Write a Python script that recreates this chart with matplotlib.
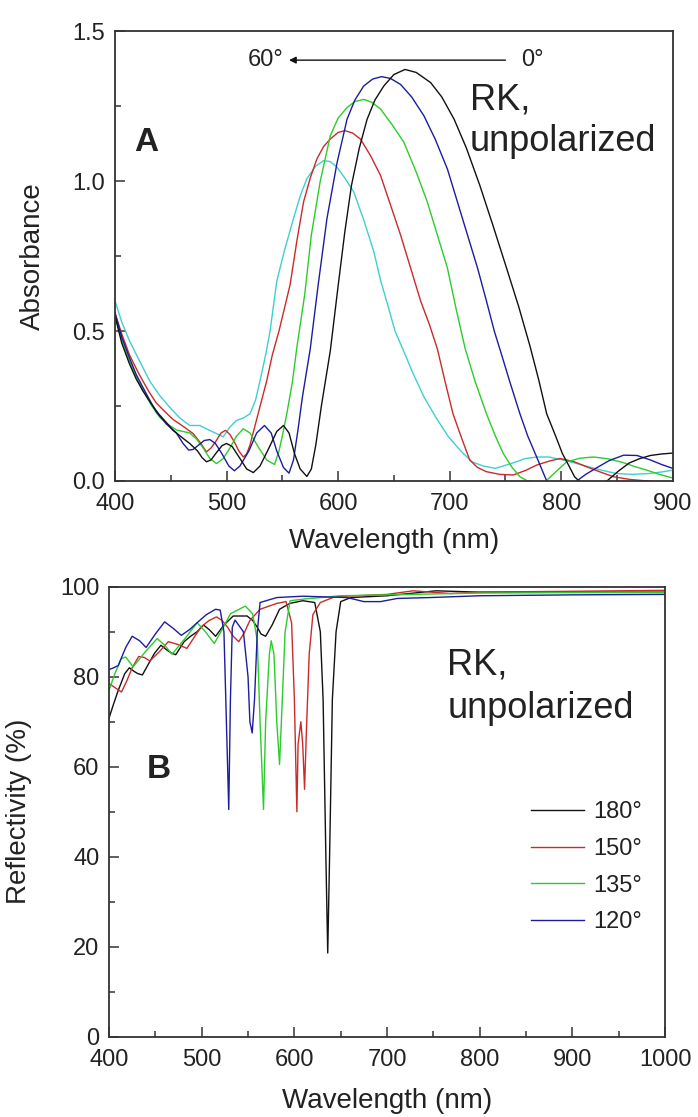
import matplotlib
matplotlib.use("Agg")
import matplotlib.pyplot as plt
from matplotlib.ticker import MultipleLocator, FormatStrFormatter

plt.rcParams['font.family'] = ['Liberation Sans', 'DejaVu Sans']

# ---------------- Panel A: absorbance vs wavelength ----------------
a_black_wl = [400, 406, 413, 419, 425, 432, 439, 446, 452, 460, 467, 474, 478, 482, 486, 491, 496, 500, 505, 512, 518, 524, 530, 538, 545, 551, 556, 561, 566, 572, 576, 580, 585, 593, 600, 606, 612, 619, 626, 633, 641, 650, 660, 670, 683, 693, 704, 715, 727, 739, 751, 762, 772, 780, 787, 795, 801, 807, 812, 816, 828, 841, 851, 861, 870, 880, 890, 900]
a_black = [0.55, 0.46, 0.39, 0.34, 0.30, 0.26, 0.224, 0.195, 0.169, 0.145, 0.125, 0.10, 0.078, 0.064, 0.07, 0.095, 0.118, 0.125, 0.115, 0.075, 0.04, 0.028, 0.05, 0.11, 0.165, 0.185, 0.16, 0.09, 0.04, 0.015, 0.04, 0.12, 0.25, 0.434, 0.65, 0.83, 0.986, 1.11, 1.206, 1.27, 1.317, 1.355, 1.372, 1.362, 1.328, 1.28, 1.206, 1.11, 0.986, 0.85, 0.71, 0.58, 0.45, 0.335, 0.224, 0.15, 0.092, 0.05, 0.014, 0.0, -0.03, 0.0, 0.032, 0.06, 0.074, 0.085, 0.09, 0.093]

a_blue_wl = [400, 406, 413, 419, 425, 431, 437, 446, 455, 461, 466, 470, 475, 480, 485, 490, 496, 502, 507, 512, 520, 527, 534, 540, 545, 551, 556, 560, 564, 568, 575, 582, 590, 599, 608, 615, 623, 631, 639, 647, 656, 666, 677, 687, 698, 707, 716, 725, 733, 740, 745, 754, 763, 770, 778, 787, 800, 814, 822, 830, 843, 856, 868, 880, 890, 900]
a_blue = [0.56, 0.48, 0.41, 0.355, 0.312, 0.27, 0.23, 0.19, 0.16, 0.125, 0.103, 0.105, 0.12, 0.135, 0.138, 0.125, 0.09, 0.05, 0.034, 0.05, 0.10, 0.16, 0.185, 0.16, 0.10, 0.045, 0.026, 0.07, 0.17, 0.28, 0.44, 0.65, 0.875, 1.06, 1.206, 1.27, 1.317, 1.34, 1.348, 1.342, 1.322, 1.28, 1.217, 1.14, 1.04, 0.93, 0.82, 0.71, 0.6, 0.5, 0.44, 0.33, 0.224, 0.15, 0.08, 0.0, -0.03, 0.0, 0.022, 0.04, 0.068, 0.086, 0.085, 0.07, 0.055, 0.042]

a_green_wl = [400, 406, 413, 420, 427, 433, 440, 447, 455, 461, 467, 473, 479, 485, 491, 497, 503, 509, 515, 521, 529, 536, 543, 547, 550, 554, 559, 563, 570, 576, 584, 593, 600, 608, 615, 623, 630, 638, 648, 659, 670, 680, 689, 698, 706, 714, 723, 733, 741, 748, 756, 763, 770, 785, 795, 805, 817, 829, 842, 855, 866, 877, 888, 900]
a_green = [0.55, 0.47, 0.40, 0.34, 0.29, 0.25, 0.213, 0.19, 0.17, 0.165, 0.16, 0.14, 0.11, 0.075, 0.058, 0.075, 0.11, 0.15, 0.174, 0.16, 0.11, 0.07, 0.055, 0.1, 0.15, 0.224, 0.33, 0.445, 0.62, 0.82, 1.0, 1.151, 1.21, 1.245, 1.265, 1.272, 1.263, 1.24, 1.19, 1.129, 1.03, 0.93, 0.82, 0.71, 0.57, 0.44, 0.33, 0.224, 0.15, 0.092, 0.045, 0.014, 0.0, -0.005, 0.03, 0.064, 0.076, 0.08, 0.074, 0.062, 0.048, 0.036, 0.022, 0.01]

a_red_wl = [400, 406, 413, 421, 430, 437, 445, 452, 460, 470, 476, 482, 486, 490, 495, 499, 503, 507, 511, 515, 518, 521, 528, 536, 541, 547, 557, 563, 569, 575, 581, 587, 593, 600, 606, 613, 620, 629, 638, 647, 656, 665, 674, 682, 689, 696, 703, 711, 718, 725, 733, 745, 757, 768, 778, 789, 799, 811, 823, 835, 847, 862, 877, 890, 900]
a_red = [0.56, 0.49, 0.42, 0.36, 0.30, 0.26, 0.23, 0.205, 0.185, 0.158, 0.13, 0.097, 0.11, 0.13, 0.16, 0.169, 0.155, 0.13, 0.10, 0.08, 0.09, 0.12, 0.22, 0.334, 0.42, 0.5, 0.655, 0.80, 0.93, 1.01, 1.074, 1.115, 1.14, 1.162, 1.168, 1.16, 1.14, 1.085, 1.019, 0.92, 0.82, 0.71, 0.6, 0.52, 0.44, 0.33, 0.224, 0.14, 0.07, 0.045, 0.031, 0.022, 0.02, 0.035, 0.053, 0.066, 0.075, 0.065, 0.047, 0.03, 0.014, 0.005, 0.0, -0.005, -0.01]

a_cyan_wl = [400, 406, 413, 422, 431, 440, 449, 458, 467, 476, 484, 491, 497, 503, 509, 515, 521, 526, 530, 535, 539, 545, 552, 560, 566, 572, 580, 587, 593, 599, 606, 614, 623, 632, 638, 645, 651, 658, 667, 677, 688, 699, 710, 720, 730, 741, 755, 768, 779, 789, 804, 819, 834, 849, 864, 879, 890, 900]
a_cyan = [0.60, 0.53, 0.467, 0.40, 0.334, 0.285, 0.246, 0.21, 0.185, 0.185, 0.17, 0.158, 0.147, 0.18, 0.202, 0.21, 0.224, 0.27, 0.334, 0.42, 0.5, 0.666, 0.77, 0.875, 0.95, 1.008, 1.05, 1.068, 1.065, 1.046, 1.01, 0.964, 0.87, 0.765, 0.67, 0.58, 0.5, 0.44, 0.36, 0.28, 0.21, 0.147, 0.1, 0.064, 0.05, 0.042, 0.058, 0.075, 0.08, 0.08, 0.068, 0.053, 0.038, 0.025, 0.022, 0.025, 0.03, 0.036]

# ---------------- Panel B: reflectivity vs wavelength ----------------
b_black_wl = [400, 405, 410, 417, 422, 427, 431, 436, 443, 449, 456, 462, 467, 472, 477, 481, 488, 495, 502, 508, 515, 524, 534, 549, 555, 560, 564, 569, 576, 584, 595, 609, 622, 628, 631, 634, 636, 638, 641, 645, 650, 661, 700, 753, 800, 900, 1000]
b_black = [70.8, 74, 77, 80.7, 82, 81.2, 80.7, 80.4, 83, 85.2, 87, 86, 85.3, 84.9, 86.5, 87.8, 89, 90, 91.5, 90.5, 89, 91.5, 93.5, 93.5, 92.5, 91, 89.5, 89, 91.5, 95, 96.3, 96.9, 96.5, 90, 75, 40, 18.6, 40, 75, 90, 96.7, 97.6, 98, 99.1, 98.8, 98.8, 98.8]

b_red_wl = [400, 407, 413.5, 419, 425, 432, 438, 444, 454, 464, 474, 484, 491, 499, 508, 516, 522, 528, 534, 540, 546, 552, 563, 581, 591, 597, 600, 602.7, 604, 607, 609, 611, 613, 616, 620, 628, 644, 700, 728, 768, 800, 900, 1000]
b_red = [78.5, 77.5, 76.6, 79, 82, 84.5, 84.3, 83.5, 85.5, 87.8, 87.2, 86.3, 88.5, 91, 92.5, 93.3, 92.5, 91, 89, 87.8, 89.8, 92.5, 95, 96.3, 96.7, 92, 75, 50, 65, 70, 65, 55, 68, 85, 93.8, 96.5, 97.8, 98.3, 99.1, 98.5, 98.8, 99, 99.2]

b_green_wl = [400, 406, 413, 418, 422, 426, 439, 452, 460, 468, 482, 495, 504, 513.6, 522, 531, 547, 555, 560, 563, 566.7, 569, 573, 575, 578, 581, 584, 587, 590, 595.4, 611.7, 650, 700, 800, 900, 1000]
b_green = [77, 80.5, 84, 84.4, 83.3, 82.2, 85.5, 88.5, 87, 85, 88.5, 92, 90, 87.4, 90.5, 94, 95.7, 94, 88, 70, 50.5, 70, 85, 88, 85, 70, 60.5, 75, 90, 96.9, 97.3, 98, 98.2, 98.6, 98.7, 98.7]

b_blue_wl = [400, 405, 410, 418, 425, 433, 440, 450, 460, 469, 478, 487, 495, 505, 515, 520, 524, 526, 529.2, 531, 533, 536, 545, 550, 552, 554.5, 557, 560, 563, 581, 609, 657, 675, 693, 711, 746, 800, 900, 1000]
b_blue = [81.6, 82, 82.5, 86.5, 89, 88, 86.5, 89.5, 92.2, 90.8, 89.2, 90.5, 92, 93.8, 95, 94.8, 90, 75, 50.5, 75, 91, 92.6, 90, 80, 70, 67.5, 75, 90, 96.5, 97.6, 97.9, 97.6, 96.7, 96.7, 97.4, 97.6, 98, 98.2, 98.3]

legend_labels = ["180°", "150°", "135°", "120°"]

C_BLACK = '#111111'
C_RED = '#cc2a2a'
C_GREEN = '#2ccc2c'
C_BLUE = '#1c1ca0'
C_CYAN = '#3fcfcf'
TXT = '#222222'
SPINE = '#333333'

fig = plt.figure(figsize=(6.98, 11.17), dpi=100)
axA = fig.add_axes([0.1648, 0.5694, 0.799, 0.4028])
axB = fig.add_axes([0.1562, 0.0719, 0.7966, 0.4028])

lw = 1.0
axA.plot(a_cyan_wl, a_cyan, color=C_CYAN, lw=lw)
axA.plot(a_red_wl, a_red, color=C_RED, lw=lw)
axA.plot(a_green_wl, a_green, color=C_GREEN, lw=lw)
axA.plot(a_blue_wl, a_blue, color=C_BLUE, lw=lw)
axA.plot(a_black_wl, a_black, color=C_BLACK, lw=lw)

axA.set_xlim(400, 900)
axA.set_ylim(0, 1.5)
axA.xaxis.set_major_locator(MultipleLocator(100))
axA.xaxis.set_minor_locator(MultipleLocator(50))
axA.yaxis.set_major_locator(MultipleLocator(0.5))
axA.yaxis.set_minor_locator(MultipleLocator(0.25))
axA.yaxis.set_major_formatter(FormatStrFormatter('%.1f'))
axA.set_xlabel('Wavelength (nm)', fontsize=20, color=TXT, labelpad=9)
axA.set_ylabel('Absorbance', fontsize=20, color=TXT, labelpad=19)

axA.annotate('', xy=(556, 1.403), xytext=(750, 1.403),
             arrowprops=dict(arrowstyle='-|>', color=C_BLACK, lw=1.0,
                             mutation_scale=10, shrinkA=0, shrinkB=0))
axA.text(551, 1.403, '60°', fontsize=17, color=TXT, ha='right', va='center')
axA.text(764, 1.403, '0°', fontsize=17, color=TXT, ha='left', va='center')
axA.text(718, 1.24, 'RK,', fontsize=26, color=TXT, ha='left', va='baseline')
axA.text(718, 1.10, 'unpolarized', fontsize=26, color=TXT, ha='left', va='baseline')
axA.text(417, 1.10, 'A', fontsize=24, fontweight='bold', color=TXT, ha='left', va='baseline')

axB.plot(b_black_wl, b_black, color=C_BLACK, lw=lw, label=legend_labels[0])
axB.plot(b_red_wl, b_red, color=C_RED, lw=lw, label=legend_labels[1])
axB.plot(b_green_wl, b_green, color=C_GREEN, lw=lw, label=legend_labels[2])
axB.plot(b_blue_wl, b_blue, color=C_BLUE, lw=lw, label=legend_labels[3])

axB.set_xlim(400, 1000)
axB.set_ylim(0, 100)
axB.xaxis.set_major_locator(MultipleLocator(100))
axB.xaxis.set_minor_locator(MultipleLocator(50))
axB.yaxis.set_major_locator(MultipleLocator(20))
axB.yaxis.set_minor_locator(MultipleLocator(10))
axB.set_xlabel('Wavelength (nm)', fontsize=20, color=TXT, labelpad=12)
axB.set_ylabel('Reflectivity (%)', fontsize=20, color=TXT, labelpad=20)

axB.text(765, 80.4, 'RK,', fontsize=26, color=TXT, ha='left', va='baseline')
axB.text(765, 70.8, 'unpolarized', fontsize=26, color=TXT, ha='left', va='baseline')
axB.text(441, 57.5, 'B', fontsize=24, fontweight='bold', color=TXT, ha='left', va='baseline')

leg = axB.legend(loc='upper left', bbox_to_anchor=((855 - 400) / 600, 0.523),
                 frameon=False, fontsize=17, handlelength=2.25, handletextpad=0.4,
                 labelspacing=0.62, borderpad=0, borderaxespad=0)
for t in leg.get_texts():
    t.set_color(TXT)

for ax in (axA, axB):
    for s in ax.spines.values():
        s.set_color(SPINE)
        s.set_linewidth(1.3)
    ax.tick_params(which='both', direction='in', top=False, right=False,
                   colors=SPINE, labelcolor=TXT, labelsize=17, width=1.1)
    ax.tick_params(axis='x', which='both', pad=9)
    ax.tick_params(axis='y', which='both', pad=7)
    ax.tick_params(which='major', length=7)
    ax.tick_params(which='minor', length=4)

fig.savefig('out.png', dpi=100)
